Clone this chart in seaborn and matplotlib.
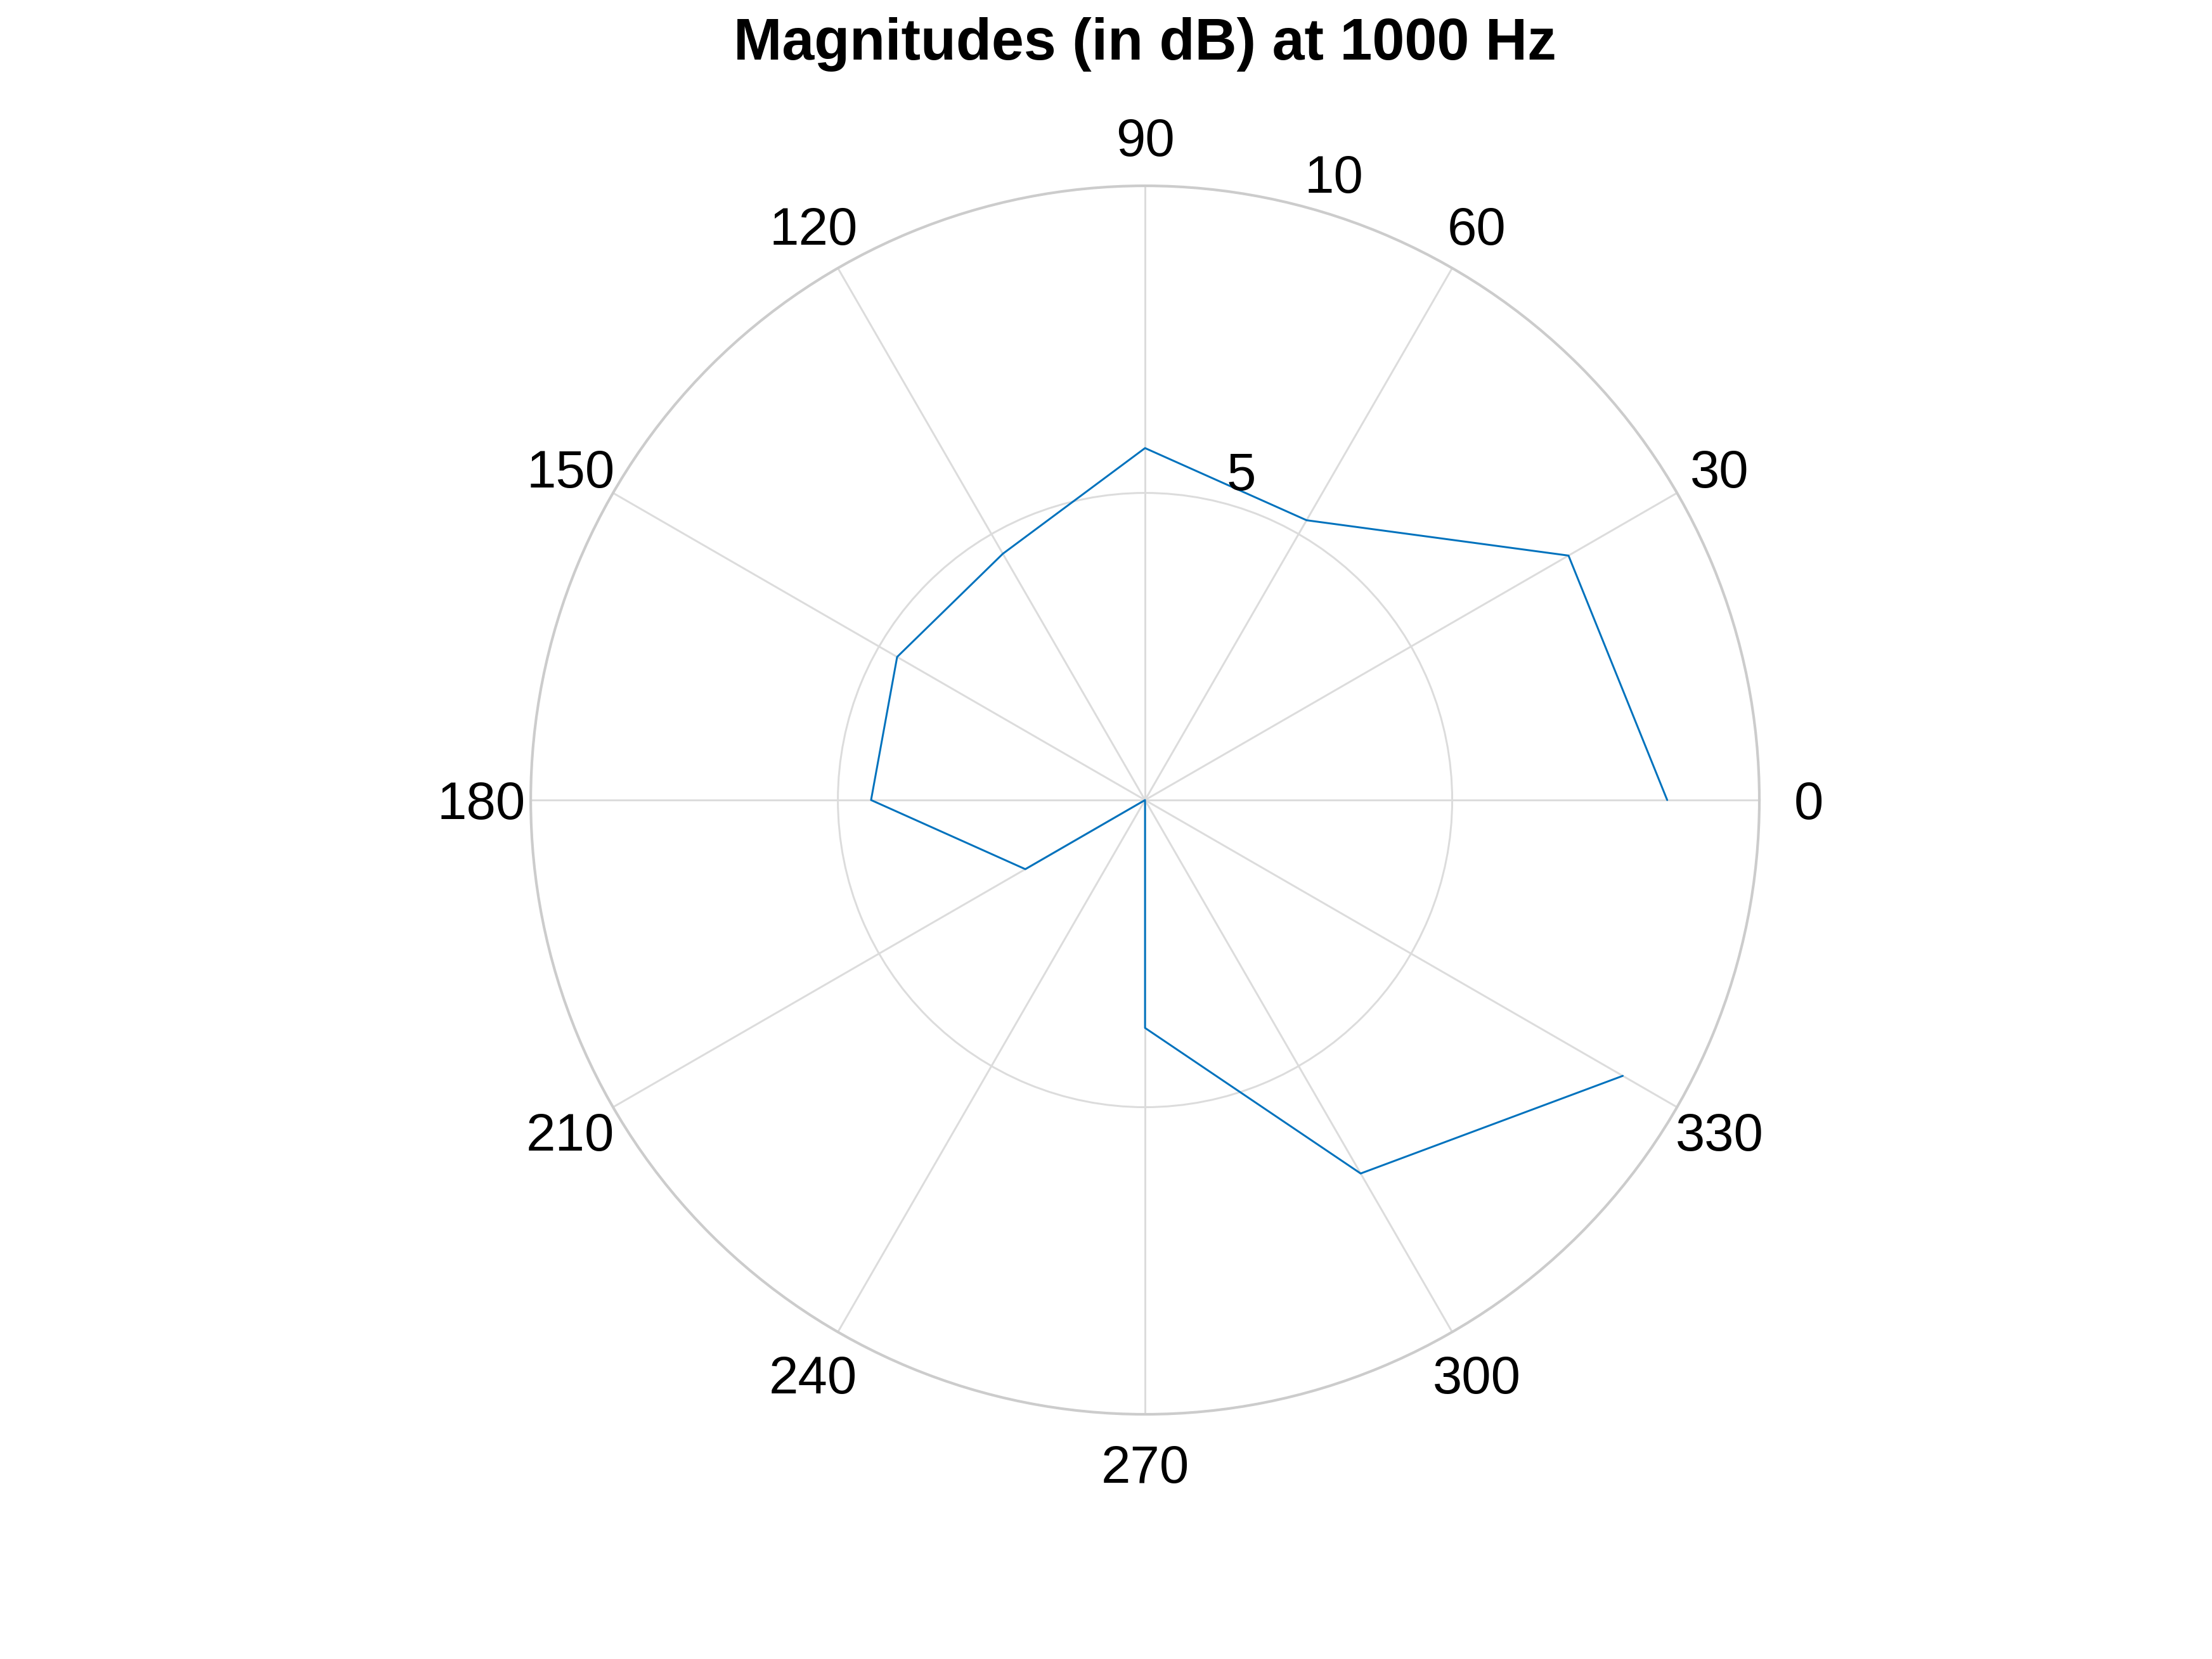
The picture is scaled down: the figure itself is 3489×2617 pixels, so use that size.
import numpy as np
import matplotlib
matplotlib.use("Agg")
import matplotlib.pyplot as plt
import matplotlib.transforms as mtransforms
import seaborn as sns

# angles (degrees) and magnitudes (dB)
angles_deg = [0, 30, 60, 90, 120, 150, 180, 210, 240, 270, 300, 330]
magnitudes = [8.50, 7.96, 5.26, 5.73, 4.63, 4.66, 4.46, 2.25, 0.0, 3.71, 7.02, 8.98]

theta_ticks = [0, 30, 60, 90, 120, 150, 180, 210, 240, 270, 300, 330]
theta_labels = ["0", "30", "60", "90", "120", "150", "180", "210", "240", "270", "300", "330"]
r_ticks = [5, 10]
r_max = 10

sns.set_style("white")
plt.rcParams['font.family'] = ['Liberation Sans', 'DejaVu Sans']
plt.rcParams['text.color'] = 'black'

fig = plt.figure(figsize=(3489 / 600, 2617 / 600), dpi=600)
ax = fig.add_axes([0.2399, 0.1475, 0.5555, 0.7405], projection='polar')

grid_col = '#dcdcdc'
lw = 0.36

theta = np.deg2rad(angles_deg)
sns.lineplot(x=theta, y=magnitudes, ax=ax, sort=False, color='#0072BD',
             linewidth=lw, estimator=None)

ax.set_ylim(0, r_max)
ax.set_xticks(np.deg2rad(theta_ticks))
ax.set_xticklabels([])
ax.set_yticks(r_ticks)
ax.set_yticklabels([])
ax.grid(True, color=grid_col, linewidth=lw)
ax.spines['polar'].set_color('#cccccc')
ax.spines['polar'].set_linewidth(0.5)
ax.set_xlabel('')
ax.set_ylabel('')
ax.tick_params(length=0, pad=0)

# angle labels just outside the outer ring, digits centred on the spoke
shift = mtransforms.ScaledTranslation(0, -0.05, fig.dpi_scale_trans)
for t, lab in zip(theta_ticks, theta_labels):
    ax.text(np.deg2rad(t), 1.08 * r_max, lab, ha='center', va='baseline',
            fontsize=10, color='black', transform=ax.transData + shift)

# radial labels, MATLAB style along a spoke near 75 degrees
for rv in r_ticks:
    ax.text(np.deg2rad(75.3), rv + 0.22, str(rv), ha='left', va='baseline',
            fontsize=10, color='black')

ax.set_title('Magnitudes (in dB) at 1000 Hz', fontsize=11, fontweight='bold',
             color='black', y=1.103, pad=0, va='baseline')

fig.savefig('out.png', dpi=600, facecolor='white')
